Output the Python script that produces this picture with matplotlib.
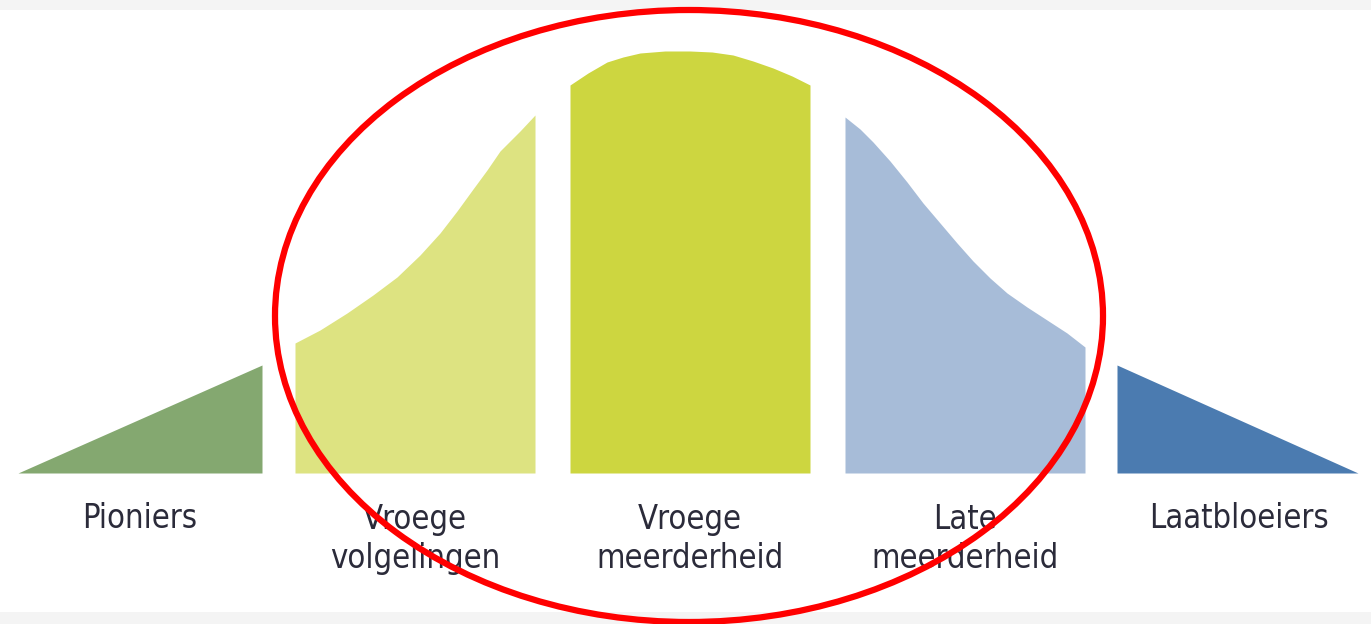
import matplotlib.pyplot as plt
from matplotlib.patches import Ellipse

# adoptiecurve (diffusie van innovaties) - vijf groepen
labels = ['Pioniers', 'Vroege\nvolgelingen', 'Vroege\nmeerderheid', 'Late\nmeerderheid', 'Laatbloeiers']
colors = ['#84a870', '#dde381', '#cdd640', '#a7bcd8', '#4b7bb0']

seg_x = [
    [18, 262],
    [295, 320, 347, 373, 397, 420, 440, 457, 473, 487, 500, 520, 535],
    [570, 588, 607, 623, 640, 665, 690, 712, 733, 753, 773, 792, 810],
    [845, 860, 873, 890, 907, 923, 940, 957, 973, 990, 1007, 1027, 1047, 1067, 1085],
    [1117, 1358],
]
seg_h = [
    [0, 108],
    [130, 143, 160, 178, 196, 218, 240, 262, 284, 303, 322, 342, 358],
    [388, 400, 411, 416, 420, 422, 422, 421, 418, 412, 405, 397, 388],
    [356, 344, 331, 312, 291, 270, 250, 230, 212, 195, 180, 166, 153, 140, 126],
    [108, 0],
]
label_x = [140, 415, 690, 965, 1239]

fig = plt.figure(figsize=(13.71, 6.24), dpi=100)
ax = fig.add_axes([0, 0, 1, 1])
ax.set_xlim(0, 1371)
ax.set_ylim(-151, 473)
ax.axis('off')

# grijze randen boven en onder
ax.axhspan(463, 473, color='#f4f4f4', lw=0)
ax.axhspan(-151, -139, color='#f4f4f4', lw=0)

for xs, hs, c in zip(seg_x, seg_h, colors):
    ax.fill_between(xs, 0, hs, color=c, lw=0)

for x, lab in zip(label_x, labels):
    y = -66 if '\n' in lab else -46
    ax.text(x, y, lab, ha='center', va='center',
            fontsize=23.5, family='DejaVu Sans', stretch='condensed',
            color='#2b2b3a', linespacing=1.2)

# rode ellips om de middengroepen
ax.add_patch(Ellipse((689, 157), 828, 612, fill=False, ec='#ff0000', lw=4.5, zorder=5))

fig.savefig('out.png', dpi=100)
